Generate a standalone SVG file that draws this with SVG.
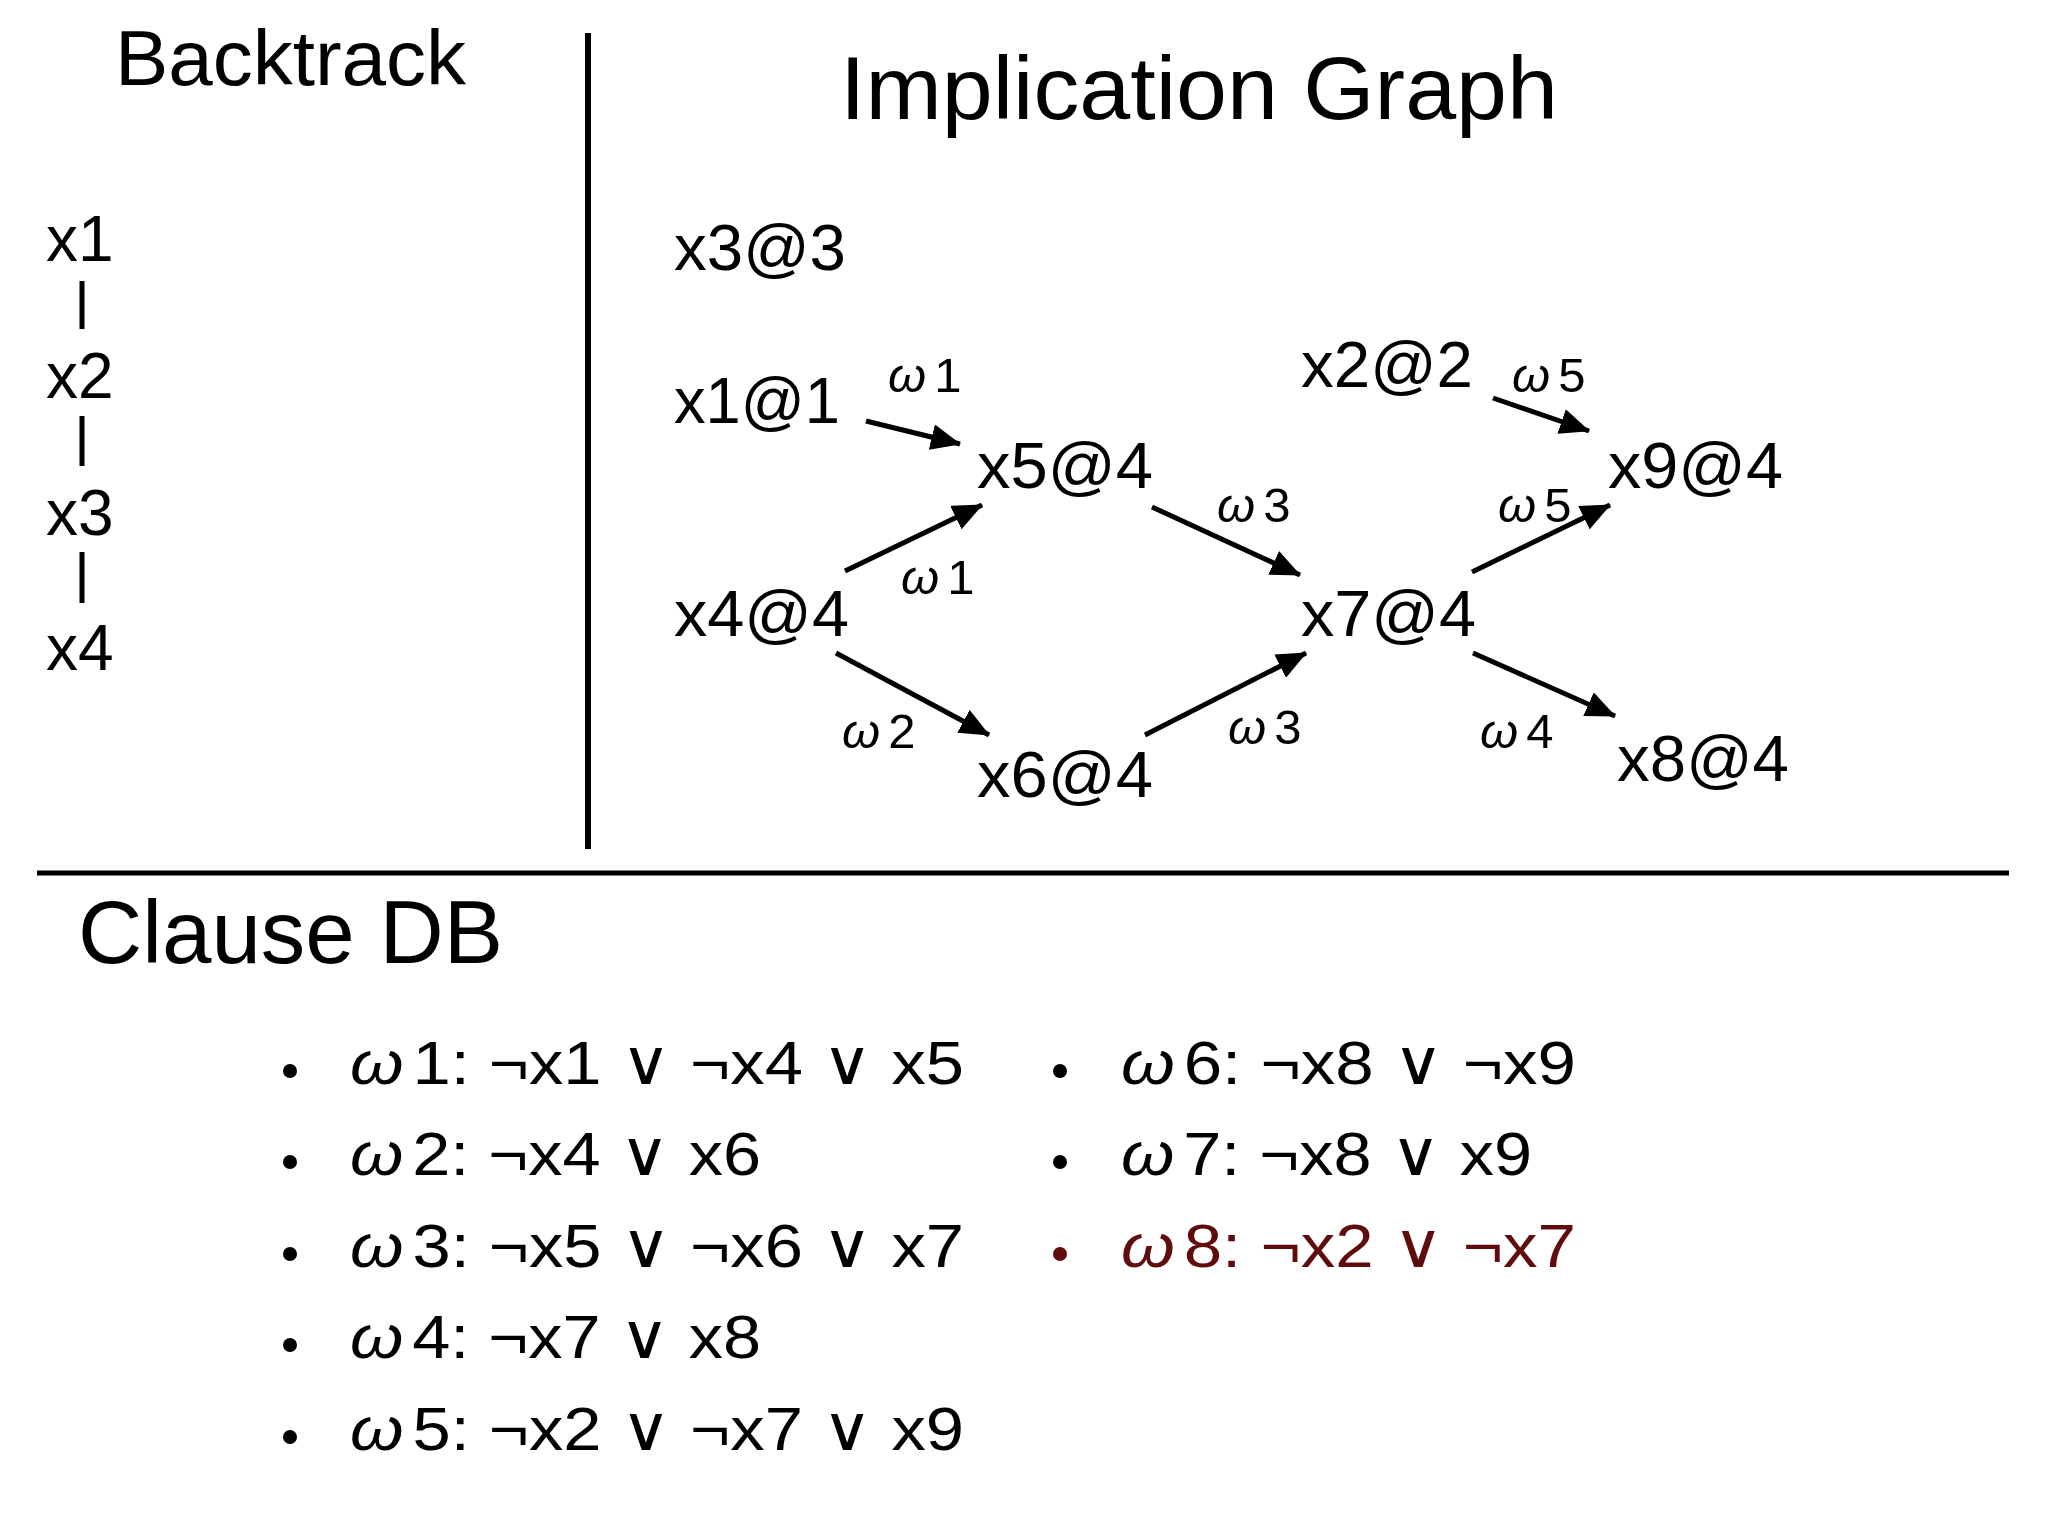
<svg xmlns="http://www.w3.org/2000/svg" width="2048" height="1536" viewBox="0 0 2048 1536">
<defs>
<style>
text{font-family:"Liberation Sans","DejaVu Sans",sans-serif;fill:#000}
.h{font-size:89px}
.bt{font-size:78px}
.n{font-size:64px}
.w{font-size:49px}
.li{font-size:62px}
.it{font-style:italic}
.red{fill:#600c0c}
.edge{stroke:#000;stroke-width:5;fill:none;marker-end:url(#ah)}
.rule{stroke:#000;fill:none}
</style>
<marker id="ah" markerUnits="userSpaceOnUse" markerWidth="30" markerHeight="26" refX="29" refY="13" orient="auto">
<path d="M0,0 L30,13 L0,26 z" fill="#000"/>
</marker>
</defs>
<rect width="2048" height="1536" fill="#fff"/>

<g id="frame">
<line class="rule" x1="588" y1="33" x2="588" y2="849" stroke-width="6"/>
<line class="rule" x1="37" y1="873" x2="2009" y2="873" stroke-width="5"/>
</g>

<g id="titles">
<text class="bt" x="115" y="85" textLength="351" lengthAdjust="spacingAndGlyphs">Backtrack</text>
<text class="h" x="840" y="119" textLength="718" lengthAdjust="spacingAndGlyphs">Implication Graph</text>
<text class="h" x="78" y="963" textLength="425" lengthAdjust="spacingAndGlyphs">Clause DB</text>
</g>

<g id="backtrack">
<text class="n" x="46" y="261">x1</text>
<line class="rule" x1="82" y1="281" x2="82" y2="329" stroke-width="5"/>
<text class="n" x="46" y="398">x2</text>
<line class="rule" x1="82" y1="416" x2="82" y2="466" stroke-width="5"/>
<text class="n" x="46" y="535">x3</text>
<line class="rule" x1="82" y1="552" x2="82" y2="603" stroke-width="5"/>
<text class="n" x="46" y="670">x4</text>
</g>

<g id="n-x3"><text class="n" x="674" y="270" textLength="172" lengthAdjust="spacingAndGlyphs">x3@3</text></g>
<g id="n-x1"><text class="n" x="674" y="423" textLength="166" lengthAdjust="spacingAndGlyphs">x1@1</text></g>
<g id="n-x5"><text class="n" x="977" y="488" textLength="176" lengthAdjust="spacingAndGlyphs">x5@4</text></g>
<g id="n-x4"><text class="n" x="674" y="636" textLength="175" lengthAdjust="spacingAndGlyphs">x4@4</text></g>
<g id="n-x6"><text class="n" x="977" y="797" textLength="176" lengthAdjust="spacingAndGlyphs">x6@4</text></g>
<g id="n-x7"><text class="n" x="1301" y="636" textLength="175" lengthAdjust="spacingAndGlyphs">x7@4</text></g>
<g id="n-x2"><text class="n" x="1301" y="387" textLength="172" lengthAdjust="spacingAndGlyphs">x2@2</text></g>
<g id="n-x9"><text class="n" x="1608" y="488" textLength="175" lengthAdjust="spacingAndGlyphs">x9@4</text></g>
<g id="n-x8"><text class="n" x="1617" y="781" textLength="172" lengthAdjust="spacingAndGlyphs">x8@4</text></g>

<g id="connectors">
<line class="edge" x1="866" y1="421" x2="960" y2="444"/>
<line class="edge" x1="845" y1="571" x2="982" y2="505"/>
<line class="edge" x1="836" y1="653" x2="989" y2="735"/>
<line class="edge" x1="1145" y1="735" x2="1306" y2="653"/>
<line class="edge" x1="1152" y1="507" x2="1300" y2="575"/>
<line class="edge" x1="1493" y1="398" x2="1589" y2="431"/>
<line class="edge" x1="1472" y1="572" x2="1610" y2="505"/>
<line class="edge" x1="1473" y1="653" x2="1615" y2="716"/>
</g>

<g id="edge-labels">
<text class="w" x="888" y="392"><tspan class="it">ω</tspan><tspan dx="8">1</tspan></text>
<text class="w" x="901" y="594"><tspan class="it">ω</tspan><tspan dx="8">1</tspan></text>
<text class="w" x="842" y="748"><tspan class="it">ω</tspan><tspan dx="8">2</tspan></text>
<text class="w" x="1217" y="522"><tspan class="it">ω</tspan><tspan dx="8">3</tspan></text>
<text class="w" x="1228" y="744"><tspan class="it">ω</tspan><tspan dx="8">3</tspan></text>
<text class="w" x="1512" y="392"><tspan class="it">ω</tspan><tspan dx="8">5</tspan></text>
<text class="w" x="1498" y="522"><tspan class="it">ω</tspan><tspan dx="8">5</tspan></text>
<text class="w" x="1480" y="748"><tspan class="it">ω</tspan><tspan dx="8">4</tspan></text>
</g>

<g id="clauses">
<circle cx="290" cy="1071" r="7"/>
<text class="li" x="350" y="1084" textLength="614" lengthAdjust="spacingAndGlyphs"><tspan class="it">ω</tspan><tspan dx="8">1: ¬x1 ∨ ¬x4 ∨ x5</tspan></text>
<circle cx="290" cy="1162" r="7"/>
<text class="li" x="350" y="1175" textLength="411" lengthAdjust="spacingAndGlyphs"><tspan class="it">ω</tspan><tspan dx="8">2: ¬x4 ∨ x6</tspan></text>
<circle cx="290" cy="1254" r="7"/>
<text class="li" x="350" y="1267" textLength="614" lengthAdjust="spacingAndGlyphs"><tspan class="it">ω</tspan><tspan dx="8">3: ¬x5 ∨ ¬x6 ∨ x7</tspan></text>
<circle cx="290" cy="1345" r="7"/>
<text class="li" x="350" y="1358" textLength="411" lengthAdjust="spacingAndGlyphs"><tspan class="it">ω</tspan><tspan dx="8">4: ¬x7 ∨ x8</tspan></text>
<circle cx="290" cy="1437" r="7"/>
<text class="li" x="350" y="1450" textLength="614" lengthAdjust="spacingAndGlyphs"><tspan class="it">ω</tspan><tspan dx="8">5: ¬x2 ∨ ¬x7 ∨ x9</tspan></text>

<circle cx="1060" cy="1071" r="7"/>
<text class="li" x="1121" y="1084" textLength="455" lengthAdjust="spacingAndGlyphs"><tspan class="it">ω</tspan><tspan dx="8">6: ¬x8 ∨ ¬x9</tspan></text>
<circle cx="1060" cy="1162" r="7"/>
<text class="li" x="1121" y="1175" textLength="411" lengthAdjust="spacingAndGlyphs"><tspan class="it">ω</tspan><tspan dx="8">7: ¬x8 ∨ x9</tspan></text>
<circle cx="1060" cy="1254" r="7" fill="#600c0c"/>
<text class="li red" x="1121" y="1267" textLength="455" lengthAdjust="spacingAndGlyphs"><tspan class="it">ω</tspan><tspan dx="8">8: ¬x2 ∨ ¬x7</tspan></text>
</g>
</svg>
